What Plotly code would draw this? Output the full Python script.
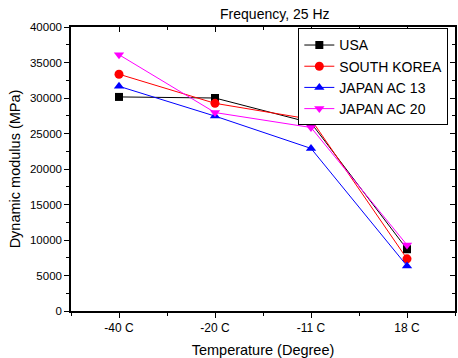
import plotly.graph_objects as go

categories = ["-40 C", "-20 C", "-11 C", "18 C"]
usa = [30150, 30000, 26500, 8700]
south_korea = [33350, 29250, 27000, 7350]
japan_ac13 = [31650, 27450, 22900, 6350]
japan_ac20 = [36100, 27950, 25850, 9300]

series = [
    ("USA", usa, "black", "square", 8),
    ("SOUTH KOREA", south_korea, "red", "circle", 9),
    ("JAPAN AC 13", japan_ac13, "blue", "triangle-up", 9),
    ("JAPAN AC 20", japan_ac20, "magenta", "triangle-down", 9),
]

x_idx = list(range(len(categories)))

fig = go.Figure()
for name, vals, col, sym, sz in series:
    fig.add_trace(go.Scatter(
        x=x_idx, y=vals, name=name, mode="lines+markers",
        line=dict(color=col, width=1),
        marker=dict(symbol=sym, size=sz, color=col),
    ))

# invisible trace for mirrored (inside-pointing) top/right ticks
fig.add_trace(go.Scatter(x=[None], y=[None], xaxis="x2", yaxis="y2", showlegend=False))

font = "Liberation Sans, Arial, sans-serif"
fig.update_layout(
    width=458, height=358,
    margin=dict(l=71, r=1, t=27, b=47),
    paper_bgcolor="white", plot_bgcolor="white",
    font=dict(family=font, color="black", size=11),
    title=dict(text="Frequency, 25 Hz", x=0.6, xanchor="center", y=0.96, yanchor="middle",
               font=dict(size=14, family=font)),
    showlegend=True,
    legend=dict(x=0.592, y=0.995, xanchor="left", yanchor="top",
                bordercolor="black", borderwidth=1, bgcolor="white",
                font=dict(size=14, family=font), tracegroupgap=0,
                itemwidth=30),
    xaxis=dict(
        range=[-0.5, 3.5], tickmode="array", tickvals=x_idx, ticktext=categories,
        showgrid=False, zeroline=False, showline=True, linecolor="black", linewidth=1.5,
        ticks="outside", ticklen=5, tickwidth=1, tickcolor="black",
        minor=dict(tickvals=[-0.5, 0.5, 1.5, 2.5, 3.5], ticks="outside", ticklen=3, tickcolor="black"),
        mirror=True,
        title=dict(text="Temperature (Degree)", font=dict(size=14.5, family=font), standoff=11),
        tickfont=dict(size=12),
    ),
    yaxis=dict(
        range=[0, 40000], tickmode="linear", tick0=0, dtick=5000, tickformat="d",
        showgrid=False, zeroline=False, showline=True, linecolor="black", linewidth=1.5,
        ticks="outside", ticklen=5, tickwidth=1, tickcolor="black",
        minor=dict(dtick=2500, ticks="outside", ticklen=3, tickcolor="black"),
        mirror=True,
        title=dict(text="Dynamic modulus (MPa)", font=dict(size=14.5, family=font), standoff=6),
        tickfont=dict(size=11.5),
    ),
    xaxis2=dict(
        overlaying="x", side="top", range=[-0.5, 3.5], tickmode="array", tickvals=x_idx,
        showticklabels=False, ticks="inside", ticklen=5, tickcolor="black", showgrid=False,
        zeroline=False,
        minor=dict(tickvals=[0.5, 1.5, 2.5], ticks="inside", ticklen=3, tickcolor="black"),
    ),
    yaxis2=dict(
        overlaying="y", side="right", range=[0, 40000], tickmode="linear", tick0=0, dtick=5000,
        showticklabels=False, ticks="inside", ticklen=5, tickcolor="black", showgrid=False,
        zeroline=False,
        minor=dict(dtick=2500, ticks="inside", ticklen=3, tickcolor="black"),
    ),
)

fig.write_html("out.html")
